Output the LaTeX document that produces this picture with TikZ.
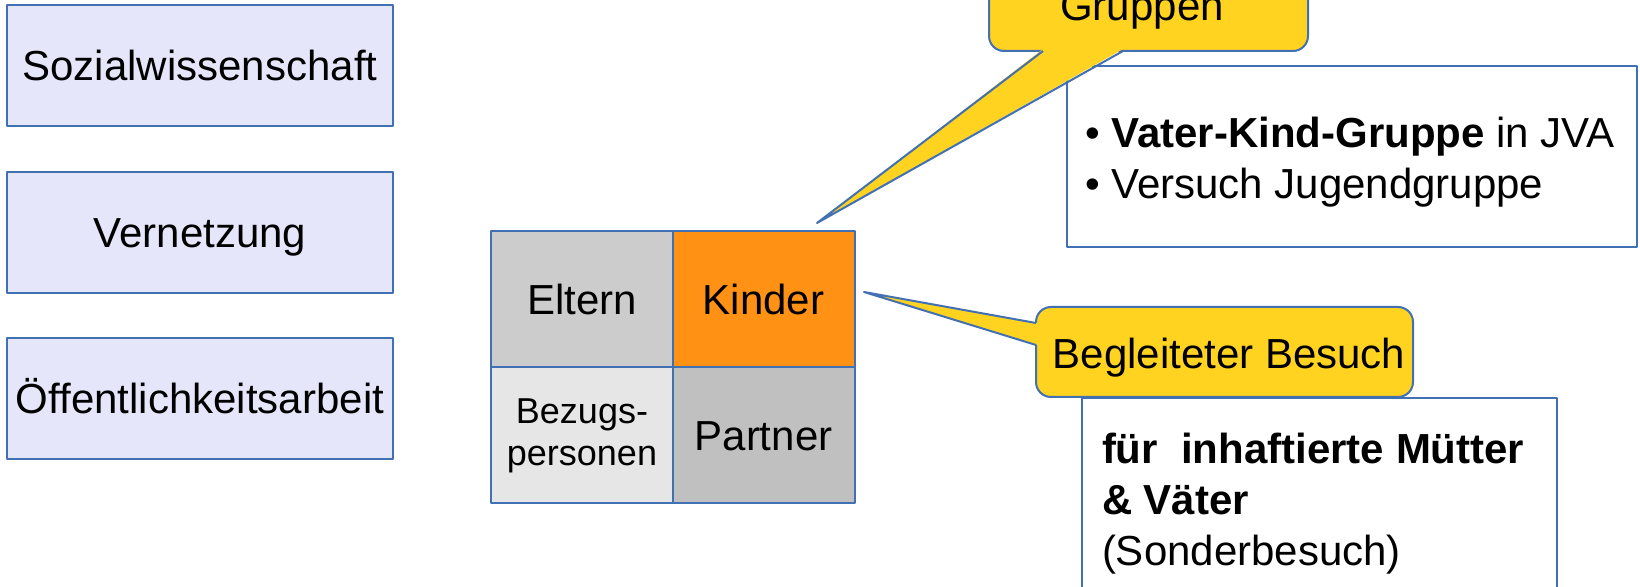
\documentclass[tikz,border=0pt]{standalone}
\usepackage{fontspec}
\setmainfont{Liberation Sans}
\definecolor{rahmen}{RGB}{65,113,178}
\definecolor{lavendel}{RGB}{230,230,250}
\definecolor{blasengelb}{RGB}{255,211,32}
\definecolor{kinderorange}{RGB}{255,146,20}
\definecolor{grauA}{RGB}{204,204,204}
\definecolor{grauB}{RGB}{192,192,192}
\definecolor{grauC}{RGB}{230,230,230}
\tikzset{
  feld/.style={draw=rahmen,fill=lavendel,minimum width=193pt,minimum height=60.5pt,inner sep=0pt,text height=15pt,text depth=0pt},
  zelle/.style={draw=rahmen,minimum width=91pt,minimum height=68pt,inner sep=0pt},
  mitte/.style={text height=15pt,text depth=0pt},
  infobox/.style={draw=rahmen,fill=white},
  blase/.style={draw=rahmen,fill=blasengelb,rounded corners=7.5pt},
  zeilen/.style={anchor=north west,align=left,inner sep=0pt}
}
\begin{document}
\begin{tikzpicture}[x=0.5pt,y=-0.5pt,line join=round,line width=1pt]
	\tikzset{every node/.style={font=\fontsize{21}{25.5}\selectfont}}
	\useasboundingbox (0,0) rectangle (1640,587);
	\clip (0,0) rectangle (1640,587);
	% Saeulen links
	\node[feld] (sozial) at (200,65.5) {Sozialwissenschaft};
	\node[feld] (netz) at (200,232.5) {Vernetzung};
	\node[feld] (oeff) at (200,398.5) {Öffentlichkeitsarbeit};
	% Vierfeld
	\node[zelle,fill=grauA,mitte] (eltern) at (582,299.5) {Eltern};
	\node[zelle,fill=kinderorange,mitte] (kinder) at (763.5,299.5) {Kinder};
	\node[zelle,fill=grauC,align=center,font=\fontsize{18}{21}\selectfont] (bezug) at (582,435.5) {Bezugs-\\personen};
	\node[zelle,fill=grauB,mitte] (partner) at (763.5,435.5) {Partner};
	% Gruppen
	\node[infobox,minimum width=285pt,minimum height=90.5pt] (gruppenbox) at (1352,156.5) {};
	\node[zeilen] (gruppentext) at (1084,116.5) {\textbullet\ \textbf{Vater-Kind-Gruppe} in JVA\\\textbullet\ Versuch Jugendgruppe};
	\draw[blase] (989,-60) rectangle (1308,51);
	\fill[blasengelb] (1043,49) -- (817,223) -- (1123,49) -- cycle;
	\draw[rahmen] (1043,51) -- (817,223) -- (1123,51);
	\node[anchor=base] (gruppen) at (1142,21) {Gruppen};
	% Begleiteter Besuch
	\node[infobox,minimum width=237.5pt,minimum height=121pt] (besuchbox) at (1319.5,519) {};
	\draw[blase] (1036,307) rectangle (1413,397);
	\fill[blasengelb] (1038,323) -- (864,292) -- (1038,345) -- cycle;
	\draw[rahmen] (1036,323) -- (864,292) -- (1036,345);
	\node[anchor=base] (besuch) at (1229,369) {Begleiteter Besuch};
	\node[zeilen] (besuchtext) at (1101,432.5) {\textbf{für\ \ inhaftierte Mütter}\\\textbf{\& Väter}\\(Sonderbesuch)};
\end{tikzpicture}
\end{document}
